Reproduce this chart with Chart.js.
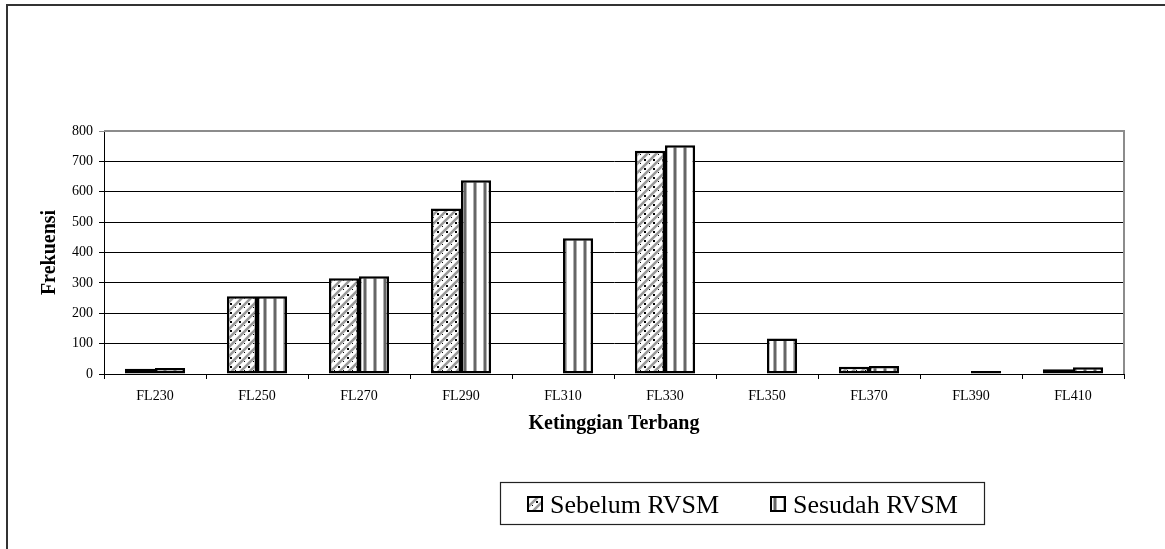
<!DOCTYPE html>
<html>
<head>
<meta charset="utf-8">
<script src="https://cdn.jsdelivr.net/npm/chart.js@4/dist/chart.umd.min.js"></script>
<style>
  html, body { margin: 0; padding: 0; background: #fff; }
  #wrap { width: 1165px; height: 549px; position: relative; }
</style>
</head>
<body>
<div id="wrap"><canvas id="c" width="1165" height="549"></canvas></div>
<script>
// Flight levels and frequency counts before / after RVSM
const flightLevels = ['FL230', 'FL250', 'FL270', 'FL290', 'FL310', 'FL330', 'FL350', 'FL370', 'FL390', 'FL410'];
const sebelumRVSM = [17, 256, 315, 545, 0, 735, 0, 24, 0, 16];
const sesudahRVSM = [20, 256, 322, 638, 447, 753, 117, 26, 10, 22];
const seriesNames = ['Sebelum RVSM', 'Sesudah RVSM'];
const yTicks = [0, 100, 200, 300, 400, 500, 600, 700, 800];

const SERIF = "'Liberation Serif', 'Times New Roman', serif";

// Diagonal hatch: grey "/" stripes with a black dotted line beside each
function diagonalPattern() {
  const t = document.createElement('canvas');
  t.width = 9; t.height = 9;
  const g = t.getContext('2d');
  g.fillStyle = '#fff';
  g.fillRect(0, 0, 9, 9);
  g.strokeStyle = '#9a9a9a';
  g.lineWidth = 2.6;
  g.beginPath();
  g.moveTo(-3, 12); g.lineTo(12, -3);
  g.moveTo(-3, 3); g.lineTo(3, -3);
  g.moveTo(6, 12); g.lineTo(12, 6);
  g.stroke();
  g.fillStyle = '#000';
  g.fillRect(5, 6, 2, 2);
  g.fillRect(1, 1, 1, 1);
  return g.createPattern(t, 'repeat');
}

// Vertical stripes: grey lines on white
function verticalPattern() {
  const t = document.createElement('canvas');
  t.width = 10; t.height = 4;
  const g = t.getContext('2d');
  g.fillStyle = '#fff';
  g.fillRect(0, 0, 10, 4);
  g.fillStyle = '#666';
  g.fillRect(4, 0, 2, 4);
  g.fillStyle = '#b0b0b0';
  g.fillRect(3, 0, 1, 4);
  g.fillRect(6, 0, 1, 4);
  return g.createPattern(t, 'repeat');
}

const fills = [diagonalPattern(), verticalPattern()];

// Page frame, plot-area outline and the boxed legend
const framePlugin = {
  id: 'frame',
  beforeDraw(chart) {
    const ctx = chart.ctx;
    ctx.save();
    ctx.fillStyle = '#fff';
    ctx.fillRect(0, 0, chart.width, chart.height);
    ctx.strokeStyle = '#333';
    ctx.lineWidth = 2;
    ctx.beginPath();
    ctx.moveTo(7, chart.height);
    ctx.lineTo(7, 5);
    ctx.lineTo(chart.width, 5);
    ctx.stroke();
    ctx.restore();
  },
  beforeDatasetsDraw(chart) {
    const a = chart.chartArea;
    const ctx = chart.ctx;
    ctx.save();
    ctx.strokeStyle = '#8c8c8c';
    ctx.lineWidth = 2;
    ctx.beginPath();
    ctx.moveTo(a.left, a.top);
    ctx.lineTo(a.right, a.top);
    ctx.lineTo(a.right, a.bottom);
    ctx.stroke();
    ctx.restore();
  },
  afterDraw(chart) {
    const ctx = chart.ctx;
    ctx.save();
    // legend box
    const box = { x: 500, y: 482, w: 484, h: 42 };
    ctx.fillStyle = '#fff';
    ctx.fillRect(box.x, box.y, box.w, box.h);
    ctx.strokeStyle = '#222';
    ctx.lineWidth = 1.2;
    ctx.strokeRect(box.x + 0.5, box.y + 0.5, box.w, box.h);
    ctx.font = '26px ' + SERIF;
    ctx.textBaseline = 'alphabetic';
    ctx.textAlign = 'left';
    const itemX = [527, 770];
    chart.data.datasets.forEach((ds, i) => {
      const sx = itemX[i], sy = 496;
      ctx.fillStyle = ds.backgroundColor;
      ctx.fillRect(sx, sy, 16, 16);
      ctx.strokeStyle = '#000';
      ctx.lineWidth = 2;
      ctx.strokeRect(sx + 1, sy + 1, 14, 14);
      ctx.fillStyle = '#000';
      ctx.fillText(ds.label, sx + 23, 513);
    });
    ctx.restore();
  }
};

new Chart(document.getElementById('c'), {
  type: 'bar',
  data: {
    labels: flightLevels,
    datasets: [
      { label: seriesNames[0], data: sebelumRVSM, backgroundColor: fills[0] },
      { label: seriesNames[1], data: sesudahRVSM, backgroundColor: fills[1] }
    ]
  },
  options: {
    responsive: false,
    animation: false,
    devicePixelRatio: 1,
    layout: { padding: { left: 0, top: 131, right: 41, bottom: 115 } },
    datasets: {
      bar: {
        categoryPercentage: 0.59,
        barPercentage: 1,
        borderColor: '#000',
        borderWidth: 2.5,
        borderSkipped: false
      }
    },
    plugins: {
      legend: { display: false },
      tooltip: { enabled: false }
    },
    scales: {
      x: {
        afterFit(scale) { scale.height = 60; },
        grid: {
          offset: true,
          drawOnChartArea: false,
          drawTicks: true,
          tickLength: 5,
          color: '#000',
          lineWidth: 1
        },
        border: { color: '#000', width: 1 },
        ticks: {
          color: '#000',
          font: { family: SERIF, size: 14 },
          padding: 9,
          maxRotation: 0
        },
        title: {
          display: true,
          text: 'Ketinggian Terbang',
          color: '#000',
          font: { family: SERIF, size: 20, weight: 'bold' },
          padding: { top: 0, bottom: -2 }
        }
      },
      y: {
        min: 0,
        max: 800,
        afterFit(scale) { scale.width = 104; },
        afterBuildTicks(scale) { scale.ticks = yTicks.map(v => ({ value: v })); },
        grid: {
          drawTicks: true,
          tickLength: 5,
          color: ctx => (ctx.tick && ctx.tick.value === 800 ? '#8c8c8c' : '#000'),
          lineWidth: 1
        },
        border: { color: '#000', width: 1 },
        ticks: {
          color: '#000',
          font: { family: SERIF, size: 14 },
          padding: 6
        },
        title: {
          display: true,
          text: 'Frekuensi',
          color: '#000',
          font: { family: SERIF, size: 20, weight: 'bold' },
          padding: { top: 38, bottom: 0 }
        }
      }
    }
  },
  plugins: [framePlugin]
});
</script>
</body>
</html>
